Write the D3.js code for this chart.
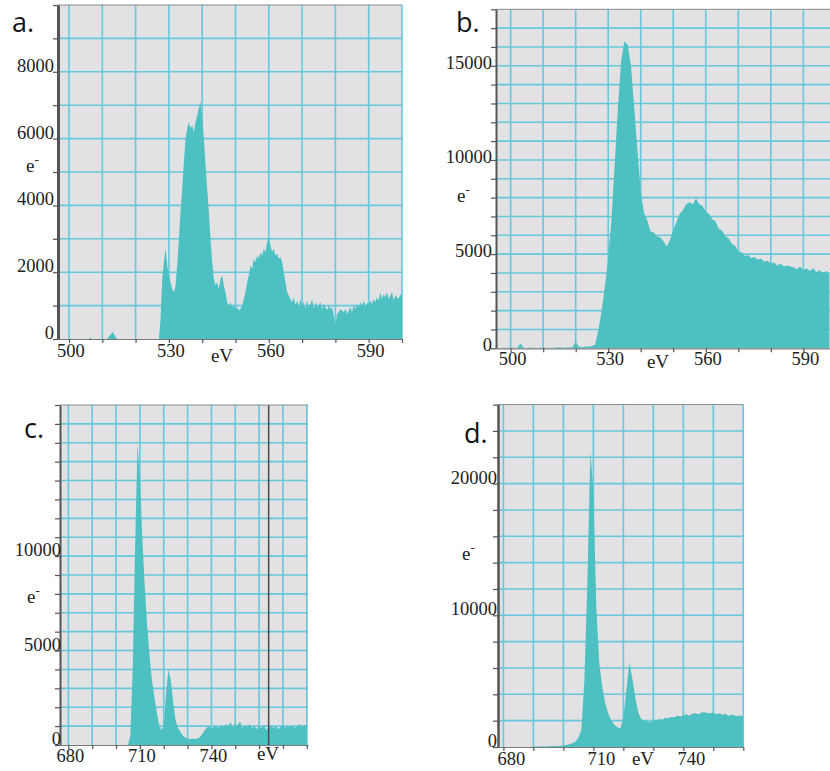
<!DOCTYPE html>
<html>
<head>
<meta charset="utf-8">
<script src="https://cdn.jsdelivr.net/npm/d3@7"></script>
<style>
body { margin: 0; background: #fff; }
svg { display: block; }
.tick-label { font-family: 'Liberation Serif', 'Times New Roman', serif; font-size: 18.5px; fill: #222; }
.unit-label { font-family: 'Liberation Serif', 'Times New Roman', serif; font-size: 19px; fill: #222; }
.panel-label { font-family: 'Open Sans', 'Noto Sans', sans-serif; font-size: 27px; fill: #111; }
</style>
</head>
<body>
<script>
// Width and height
var w = 830,
    h = 771;

var teal = '#4dc0c1',
    gridColor = '#66c8db',
    plotBg = '#e2e1e3';

// Spectrum a: counts per 0.5 eV channel, first channel at 497 eV
var aStart = 497, aStep = 0.5;
var aCounts = [
  0, 0, 0, 0, 0, 0, 0, 0, 0, 0,                                   // 497
  0, 0, 0, 0, 0, 0, 0, 0, 0, 40,                                  // 502
  0, 0, 0, 0, 0, 0, 0, 0, 0, 0,                                   // 507
  80, 120, 220, 150, 60, 0, 0, 0, 0, 0,                           // 512
  0, 0, 0, 0, 0, 0, 0, 0, 0, 0,                                   // 517
  0, 0, 0, 0, 0, 0, 0, 0, 0, 0,                                   // 522
  0, 600, 1800, 2300, 2700, 2200, 1900, 1700, 1500, 1400,         // 527
  1600, 2200, 3000, 3800, 4500, 5300, 6000, 6300, 6500, 6300,     // 532
  6400, 6200, 6500, 6700, 6900, 7100, 6600, 6000, 5200, 4500,     // 537
  3800, 3000, 2300, 1800, 1600, 1700, 1500, 1800, 1900, 1600,     // 542
  1400, 1100, 1000, 1100, 950, 1000, 900, 950, 850, 900,          // 547
  1000, 1200, 1400, 1700, 1900, 2200, 2100, 2400, 2300, 2500,     // 552
  2400, 2600, 2500, 2700, 2600, 2900, 3050, 2800, 2600, 2700,     // 557
  2500, 2550, 2400, 2450, 2300, 2000, 1700, 1400, 1300, 1200,     // 562
  1100, 1250, 1000, 1150, 950, 1200, 1000, 1100, 900, 1150,       // 567
  950, 1050, 1200, 900, 1100, 950, 1000, 1100, 900, 1050,         // 572
  950, 850, 1000, 900, 950, 700, 400, 750, 800, 900,              // 577
  850, 800, 900, 750, 850, 950, 800, 1000, 900, 1050,             // 582
  950, 1100, 1000, 1150, 950, 1100, 1000, 1150, 1050, 1200,       // 587
  1100, 1250, 1150, 1400, 1200, 1350, 1250, 1400, 1200, 1300,     // 592
  1400, 1150, 1300, 1250, 1200, 1350, 1250                        // 597
];

// Spectrum b: counts per 1 eV channel, first channel at 496 eV
var bStart = 496, bStep = 1;
var bCounts = [
  0, 20, 30, 20, 40, 30, 20, 250, 30, 20,                         // 496
  40, 30, 20, 30, 40, 30, 20, 30, 40, 50,                         // 506
  30, 40, 60, 50, 350, 80, 60, 100, 80, 120,                      // 516
  200, 1000, 2000, 3300, 4800, 6800, 9800, 12800, 15300, 16300,   // 526
  16100, 15000, 12800, 10500, 8300, 7200, 6800, 6200, 6150, 5950, // 536
  5900, 5700, 5400, 5750, 6300, 6700, 7150, 7350, 7650, 7750,     // 546
  7650, 7950, 7650, 7550, 7250, 7150, 6850, 6750, 6350, 6250,     // 556
  5950, 5850, 5550, 5450, 5150, 5100, 4900, 4950, 4800, 4850,     // 566
  4700, 4750, 4600, 4650, 4500, 4550, 4400, 4500, 4350, 4400,     // 576
  4350, 4300, 4200, 4350, 4150, 4250, 4100, 4250, 4050, 4150,     // 586
  4000, 4100, 3950                                                // 596
];

// Spectrum c: counts per 1 eV channel, first channel at 677 eV
var cStart = 677, cStep = 1;
var cCounts = [
  0, 0, 0, 0, 0, 0, 0, 0, 0, 0,                                   // 677
  0, 0, 0, 0, 0, 0, 0, 0, 0, 0,                                   // 687
  0, 0, 0, 0, 0, 0, 0, 0, 0, 500,                                 // 697
  4000, 10500, 15900, 14200, 11000, 8500, 6400, 4800, 3500, 2600, // 707
  1800, 1100, 800, 1000, 2800, 4000, 3400, 2200, 1300, 900,       // 717
  700, 500, 400, 350, 300, 350, 300, 350, 400, 550,               // 727
  750, 900, 1000, 850, 950, 1000, 900, 1050, 950, 1100,           // 737
  1000, 1200, 950, 1100, 1050, 1250, 900, 1050, 950, 1100,        // 747
  900, 1000, 850, 1000, 900, 1050, 800, 950, 1000, 900,           // 757
  1000, 850, 950, 1050, 900, 1000, 950, 1050, 900, 1000,          // 767
  1100, 950, 1050, 1100                                           // 777
];
var cMarker = 764; // dark cursor line in c

// Spectrum d: counts per 1 eV channel, first channel at 678 eV
var dStart = 678, dStep = 1;
var dCounts = [
  0, 0, 0, 0, 0, 0, 0, 0, 0, 0,                                   // 678
  0, 0, 40, 30, 40, 50, 40, 60, 50, 70,                           // 688
  80, 100, 120, 160, 200, 280, 400, 700, 1300, 5000,              // 698
  12500, 22400, 19500, 10500, 6300, 4500, 3300, 2500, 2000, 1700, // 708
  1500, 1400, 2200, 4300, 6400, 5200, 3700, 2600, 2100, 2000,     // 718
  1950, 1880, 2020, 2000, 2120, 2060, 2220, 2180, 2280, 2250,     // 728
  2380, 2320, 2420, 2480, 2380, 2520, 2560, 2480, 2620, 2640,     // 738
  2580, 2560, 2620, 2480, 2560, 2440, 2520, 2380, 2460, 2390,     // 748
  2350, 2400, 2300                                                // 758
];

// Tick labels
var aXLabels = [500, 530, 560, 590], aYLabels = [0, 2000, 4000, 6000, 8000];
var bXLabels = [500, 530, 560, 590], bYLabels = [0, 5000, 10000, 15000];
var cXLabels = [680, 710, 740],      cYLabels = [0, 5000, 10000];
var dXLabels = [680, 710, 740],      dYLabels = [0, 10000, 20000];

// Panel layout (pixel boxes)
var panels = [
  { id: 'a', name: 'a.', counts: aCounts, start: aStart, step: aStep,
    xLabels: aXLabels, yLabels: aYLabels,
    xDomain: [496.7, 600], yDomain: [0, 10000], xGrid: 10, yGrid: 1000,
    left: 58, right: 402, top: 5, bottom: 339, axisW: 3,
    namePos: [12, 32], ePos: [26, 172], eVPos: [222, 362],
    xLabelY: 357, xLabelDx: 2, yLabelX: 54, yLabelDy: 0 },
  { id: 'b', name: 'b.', counts: bCounts, start: bStart, step: bStep,
    xLabels: bXLabels, yLabels: bYLabels,
    xDomain: [495.5, 598.2], yDomain: [0, 18000], xGrid: 10, yGrid: 1000,
    left: 496, right: 830, top: 9.3, bottom: 348.3, axisW: 2,
    namePos: [456, 32], ePos: [457, 202], eVPos: [658, 368],
    xLabelY: 365, xLabelDx: 2, yLabelX: 492, yLabelDy: 3 },
  { id: 'c', name: 'c.', counts: cCounts, start: cStart, step: cStep,
    xLabels: cXLabels, yLabels: cYLabels, marker: cMarker,
    xDomain: [676.5, 780.5], yDomain: [0, 18000], xGrid: 10, yGrid: 1000,
    left: 60, right: 308, top: 405, bottom: 745, axisW: 2,
    namePos: [24, 438], ePos: [27, 603], eVPos: [268, 760],
    xLabelY: 762, xLabelDx: 2, yLabelX: 61, yLabelDy: 0 },
  { id: 'd', name: 'd.', counts: dCounts, start: dStart, step: dStep,
    xLabels: dXLabels, yLabels: dYLabels,
    xDomain: [678.2, 760], yDomain: [0, 26000], xGrid: 10, yGrid: 2000,
    left: 498, right: 743.3, top: 404.6, bottom: 747, axisW: 2.5,
    namePos: [464, 443], ePos: [462, 560], eVPos: [643, 765],
    xLabelY: 765, xLabelDx: 8, yLabelX: 497, yLabelDy: 0 }
];

// Create SVG
var svg = d3.select('body')
            .append('svg')
            .attr('width', w)
            .attr('height', h);

panels.forEach(function(p) {
  var xScale = d3.scaleLinear().domain(p.xDomain).range([p.left, p.right]);
  var yScale = d3.scaleLinear().domain(p.yDomain).range([p.bottom, p.top]);

  var g = svg.append('g').attr('class', 'panel-' + p.id);

  g.append('clipPath')
   .attr('id', 'clip-' + p.id)
   .append('rect')
   .attr('x', p.left)
   .attr('y', p.top)
   .attr('width', p.right - p.left)
   .attr('height', p.bottom - p.top);

  // plot background
  g.append('rect')
   .attr('x', p.left)
   .attr('y', p.top)
   .attr('width', p.right - p.left)
   .attr('height', p.bottom - p.top)
   .attr('fill', plotBg);

  var gridX = d3.range(Math.ceil(p.xDomain[0] / p.xGrid) * p.xGrid, p.xDomain[1] + 0.01, p.xGrid);
  var gridY = d3.range(p.yGrid, p.yDomain[1], p.yGrid);
  var tickY = d3.range(0, p.yDomain[1] + 1, p.yGrid);

  // grid lines
  g.selectAll('line.vgrid')
   .data(gridX)
   .enter()
   .append('line')
   .attr('class', 'vgrid')
   .attr('x1', function(d) { return xScale(d); })
   .attr('x2', function(d) { return xScale(d); })
   .attr('y1', p.top)
   .attr('y2', p.bottom)
   .attr('stroke', gridColor)
   .attr('stroke-width', 1.6);

  g.selectAll('line.hgrid')
   .data(gridY)
   .enter()
   .append('line')
   .attr('class', 'hgrid')
   .attr('x1', p.left)
   .attr('x2', p.right)
   .attr('y1', function(d) { return yScale(d); })
   .attr('y2', function(d) { return yScale(d); })
   .attr('stroke', gridColor)
   .attr('stroke-width', 1.6);

  // spectrum
  var area = d3.area()
               .x(function(d, i) { return xScale(p.start + i * p.step); })
               .y0(yScale(0))
               .y1(function(d) { return yScale(d); });

  g.append('path')
   .datum(p.counts)
   .attr('d', area)
   .attr('fill', teal)
   .attr('clip-path', 'url(#clip-' + p.id + ')');

  if (p.marker) {
    g.append('line')
     .attr('x1', xScale(p.marker))
     .attr('x2', xScale(p.marker))
     .attr('y1', p.top)
     .attr('y2', p.bottom)
     .attr('stroke', '#4a4a4a')
     .attr('stroke-width', 1.5);
  }

  // top border
  g.append('line')
   .attr('x1', p.left)
   .attr('x2', p.right)
   .attr('y1', p.top)
   .attr('y2', p.top)
   .attr('stroke', '#8a8a8a')
   .attr('stroke-width', 1);

  // bottom axis, ticks only
  var xAxisG = g.append('g')
   .attr('transform', 'translate(0,' + p.bottom + ')')
   .call(d3.axisBottom(xScale).tickValues(gridX).tickSize(4).tickSizeOuter(0).tickFormat(''));
  xAxisG.select('.domain').attr('stroke', '#7a7a7a').attr('stroke-width', 1.2);
  xAxisG.selectAll('.tick line').attr('stroke', '#555').attr('stroke-width', 1.2);

  // left axis, ticks only
  var yAxisG = g.append('g')
   .attr('transform', 'translate(' + p.left + ',0)')
   .call(d3.axisLeft(yScale).tickValues(tickY).tickSize(5).tickSizeOuter(0).tickFormat(''));
  yAxisG.select('.domain').attr('stroke', '#555').attr('stroke-width', p.axisW);
  yAxisG.selectAll('.tick line').attr('stroke', '#555').attr('stroke-width', 1.2);

  // tick labels
  g.selectAll('text.xl')
   .data(p.xLabels)
   .enter()
   .append('text')
   .attr('class', 'tick-label xl')
   .attr('x', function(d) { return xScale(d) + p.xLabelDx; })
   .attr('y', p.xLabelY)
   .attr('text-anchor', 'middle')
   .text(function(d) { return d; });

  g.selectAll('text.yl')
   .data(p.yLabels)
   .enter()
   .append('text')
   .attr('class', 'tick-label yl')
   .attr('x', p.yLabelX)
   .attr('y', function(d) { return yScale(d) + p.yLabelDy; })
   .attr('text-anchor', 'end')
   .text(function(d) { return d; });

  // axis titles
  var eLabel = g.append('text')
   .attr('class', 'unit-label')
   .attr('x', p.ePos[0])
   .attr('y', p.ePos[1])
   .text('e');
  eLabel.append('tspan')
   .attr('dy', -8)
   .attr('font-size', 13)
   .text('-');

  g.append('text')
   .attr('class', 'unit-label')
   .attr('x', p.eVPos[0])
   .attr('y', p.eVPos[1])
   .attr('text-anchor', 'middle')
   .text('eV');

  // panel letter
  g.append('text')
   .attr('class', 'panel-label')
   .attr('x', p.namePos[0])
   .attr('y', p.namePos[1])
   .text(p.name);
});
</script>
</body>
</html>
